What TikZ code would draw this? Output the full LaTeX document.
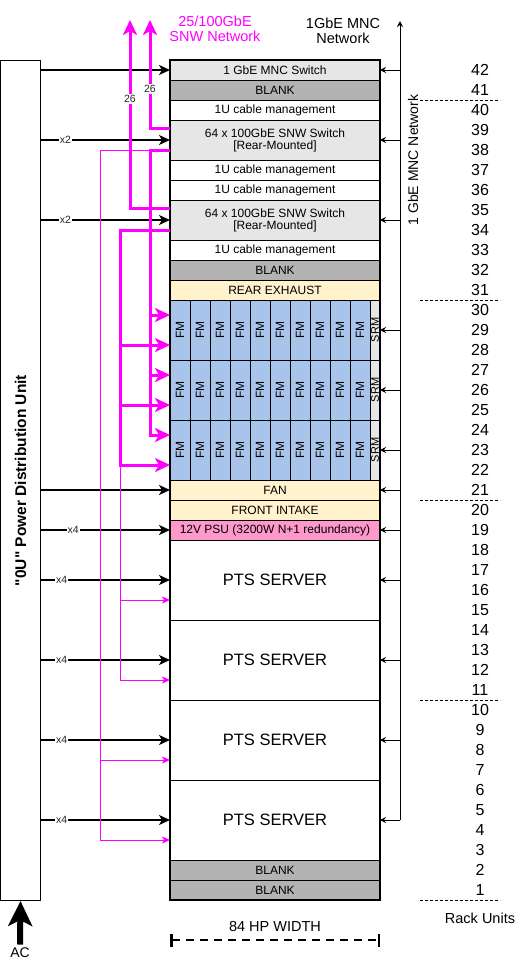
\documentclass[tikz,border=0pt]{standalone}
\usepackage{fontspec}
\setmainfont{Liberation Sans}
\newfontfamily\pdufont{Liberation Sans}[Ligatures=TeXOff]
\usepackage{graphicx}
\usetikzlibrary{positioning, arrows, arrows.meta}

\definecolor{blankgray}{HTML}{B3B3B3}
\definecolor{swgray}{HTML}{E6E6E6}
\definecolor{airbeige}{HTML}{FFF2CC}
\definecolor{psupink}{HTML}{FF99CC}
\definecolor{fmblue}{HTML}{A9C4EB}
\definecolor{snwpink}{HTML}{FF00FF}

\newcommand{\fsz}[1]{\fontsize{#1}{#1}\selectfont}

\begin{document}
\begin{tikzpicture}[->,>=stealth',x=1pt,y=-1pt,node distance=0pt]
  \tikzstyle{rackrow}=[draw,line width=1pt,minimum width=210pt,minimum height=20pt,inner sep=0pt,outer sep=0pt,align=center,font=\fsz{12}]
  \tikzstyle{blankbox}=[rackrow,fill=blankgray]
  \tikzstyle{swbox}=[rackrow,fill=swgray]
  \tikzstyle{cablebox}=[rackrow,fill=white]
  \tikzstyle{airbox}=[rackrow,fill=airbeige]
  \tikzstyle{psubox}=[rackrow,fill=psupink]
  \tikzstyle{srvbox}=[rackrow,fill=white,minimum height=80pt,font=\fsz{16.5}]
  \tikzstyle{fmbox}=[rackrow,fill=fmblue,minimum width=20pt,minimum height=60pt]
  \tikzstyle{srmbox}=[rackrow,fill=swgray,minimum width=10pt,minimum height=60pt,font=\fsz{11}]
  \tikzstyle{feed}=[-{Stealth[length=11pt,width=10pt,inset=3pt]},line width=1.5pt]
  \tikzstyle{mgmt}=[-{Stealth[length=6pt,width=6pt,inset=2pt]},line width=1pt]
  \tikzstyle{snw}=[-{Stealth[length=15pt,width=14pt,inset=4pt]},line width=3pt,snwpink]
  \tikzstyle{snwthin}=[-{Stealth[length=8pt,width=7pt,inset=2pt]},line width=1pt,snwpink]
  \tikzstyle{cnt}=[fill=white,inner sep=1pt,font=\fsz{10.5},text=black!85]
  \tikzstyle{ru}=[minimum height=20pt,inner sep=0pt,font=\fsz{16}]

  \useasboundingbox (0,0) rectangle (521,970);

  % rack, top to bottom
  \node[swbox,anchor=north west] (mnc) at (170,60) {1 GbE MNC Switch};
  \node[blankbox,below=of mnc] (u41) {BLANK};
  \node[cablebox,below=of u41] (u40) {1U cable management};
  \node[swbox,minimum height=40pt,below=of u40] (sw1) {64 x 100GbE SNW Switch\\{[Rear-Mounted]}};
  \node[cablebox,below=of sw1] (u37) {1U cable management};
  \node[cablebox,below=of u37] (u36) {1U cable management};
  \node[swbox,minimum height=40pt,below=of u36] (sw2) {64 x 100GbE SNW Switch\\{[Rear-Mounted]}};
  \node[cablebox,below=of sw2] (u33) {1U cable management};
  \node[blankbox,below=of u33] (u32) {BLANK};
  \node[airbox,below=of u32] (exhaust) {REAR EXHAUST};
  \foreach \r in {1,2,3} {
    \foreach \c in {1,...,10}
      \node[fmbox] (fm\r\c) at (160+20*\c,270+60*\r) {\rotatebox{90}{FM}};
    \node[srmbox] (srm\r) at (375,270+60*\r) {\rotatebox{90}{SRM}};
  }
  \node[airbox,anchor=north west] (fan) at (fm31.south west) {FAN};
  \node[airbox,below=of fan] (intake) {FRONT INTAKE};
  \node[psubox,below=of intake] (psu) {12V PSU (3200W N+1 redundancy)};
  \node[srvbox,below=of psu] (srv1) {PTS SERVER};
  \node[srvbox,below=of srv1] (srv2) {PTS SERVER};
  \node[srvbox,below=of srv2] (srv3) {PTS SERVER};
  \node[srvbox,below=of srv3] (srv4) {PTS SERVER};
  \node[blankbox,below=of srv4] (u2) {BLANK};
  \node[blankbox,below=of u2] (u1) {BLANK};
  \draw[-,line width=2pt] (mnc.north west) rectangle (u1.south east);

  % power distribution
  \node[draw,line width=1pt,minimum width=40pt,minimum height=840pt,inner sep=0pt,anchor=north west] (pdu) at (0,60)
    {\rotatebox{90}{\pdufont\fsz{15.5}\bfseries "0U" Power Distribution Unit}};
  \node[font=\fsz{14}] (ac) at (20,953) {AC};
  \draw[-{Stealth[length=25pt,width=24pt,inset=6pt]},line width=6pt] (ac.north) -- (pdu.south);
  \draw[feed] (pdu.east |- mnc) -- (mnc.west);
  \draw[feed] (pdu.east |- sw1) -- (sw1.west) node[cnt,pos=0.19] {x2};
  \draw[feed] (pdu.east |- sw2) -- (sw2.west) node[cnt,pos=0.19] {x2};
  \draw[feed] (pdu.east |- fan) -- (fan.west);
  \draw[feed] (pdu.east |- psu) -- (psu.west) node[cnt,pos=0.25] {x4};
  \foreach \n in {1,...,4}
    \draw[feed] (pdu.east |- srv\n) -- (srv\n.west) node[cnt,pos=0.16] {x4};

  % 1GbE management
  \node[align=center,font=\fsz{14.5}] (mnclbl) at (343,31) {1GbE MNC\\Network};
  \coordinate (mnctop) at (400,21);
  \draw[mgmt] (mnctop |- srv4) -- (mnctop);
  \node[rotate=90,font=\fsz{14}] (mncbus) at (413,160) {1 GbE MNC Network};
  \foreach \n in {mnc,sw1,sw2,srm1,srm2,srm3,fan,psu,srv1,srv2,srv3,srv4}
    \draw[mgmt] (mnctop |- \n) -- (mnc.east |- \n);

  % 25/100GbE switch network
  \node[align=center,font=\fsz{14.5},text=snwpink] (snwlbl) at (215,29) {25/100GbE\\SNW Network};
  \coordinate (net1) at (150,20);
  \coordinate (net2) at (130,20);
  \coordinate (busb) at (120,0);
  \coordinate (busc) at (100,0);
  \coordinate (sw1b) at ([yshift=10pt]sw1.south west);
  \coordinate (sw2b) at ([yshift=10pt]sw2.south west);
  \foreach \r in {1,2,3} {
    \coordinate (tapa\r) at ([yshift=-15pt]fm\r1.north west);
    \coordinate (tapb\r) at ([yshift=15pt]fm\r1.south west);
  }
  \foreach \n in {1,...,4}
    \coordinate (taps\n) at ([yshift=-20pt]srv\n.west);
  \draw[snwthin] (net1 |- sw1b) -| (busc |- taps4) -- (taps4);
  \draw[snwthin] (busc |- taps3) -- (taps3);
  \draw[snwthin] (busb |- sw2b) -- (busb |- taps2) -- (taps2);
  \draw[snwthin] (busb |- taps1) -- (taps1);
  \draw[snw] ([yshift=-8pt]sw1.north west) -| (net1) node[cnt,pos=0.68] {26};
  \draw[snw] ([yshift=-8pt]sw2.north west) -| (net2) node[cnt,pos=0.79] {26};
  \draw[snw] (sw1b) -| (net1 |- tapa3) -- (tapa3);
  \draw[snw] (sw2b) -| (busb |- tapb3) -- (tapb3);
  \foreach \r in {1,2} {
    \draw[snw] (net1 |- tapa\r) -- (tapa\r);
    \draw[snw] (busb |- tapb\r) -- (tapb\r);
  }

  % rack units
  \foreach \u in {1,...,42}
    \node[ru] (ru\u) at (480,910-20*\u) {\u};
  \foreach \u in {1,11,21,31,41}
    \draw[-,dash pattern=on 3pt off 2pt] ([xshift=-60pt]ru\u.south) -- ([xshift=20pt]ru\u.south);
  \node[font=\fsz{14.5}] (rulbl) at (480,918) {Rack Units};

  % width
  \node[font=\fsz{14.5}] (hpw) at (275,926) {84 HP WIDTH};
  \draw[|-|,line width=2.5pt,dash pattern=on 8pt off 6pt] (u1.west |- 0,940) -- (u1.east |- 0,940);
\end{tikzpicture}
\end{document}
